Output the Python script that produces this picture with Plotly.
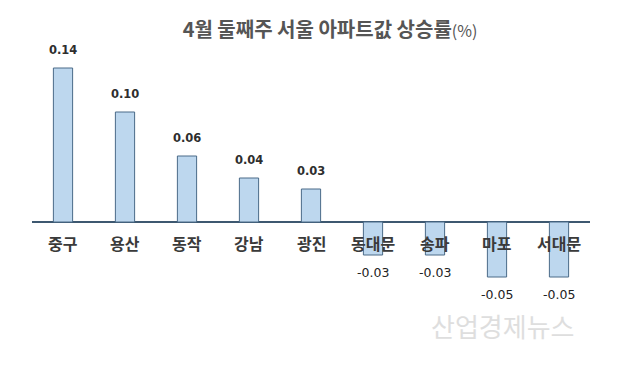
import plotly.graph_objects as go

categories = ["중구", "용산", "동작", "강남", "광진", "동대문", "송파", "마포", "서대문"]
values = [0.14, 0.10, 0.06, 0.04, 0.03, -0.03, -0.03, -0.05, -0.05]
title_main = "4월 둘째주 서울 아파트값 상승률"
title_unit = "(%)"
watermark = "산업경제뉴스"

FONT = "Noto Sans CJK KR"
OFF = 8  # page body margin

W, H = 618 - OFF, 383 - OFF

fig = go.Figure()
fig.add_trace(go.Bar(
    x=categories, y=values, width=0.31,
    marker=dict(color="#bdd7ee", line=dict(color="#4a6a88", width=1)),
    hoverinfo="skip",
))

annotations = []
for c, v in zip(categories, values):
    if v >= 0:
        annotations.append(dict(x=c, y=v, yshift=18, text=f"<b>{v:.2f}</b>", showarrow=False,
                                font=dict(family="DejaVu Sans", size=11.5, color="#2e2e2e")))
    else:
        annotations.append(dict(x=c, y=v, yshift=-17, text=f"{v:.2f}", showarrow=False,
                                font=dict(family="DejaVu Sans", size=12.5, color="#222222")))
    annotations.append(dict(x=c, y=0, yshift=-21, text=f"<b>{c}</b>", showarrow=False,
                            font=dict(family=FONT, size=16, color="#3a3a3a")))

annotations.append(dict(xref="paper", yref="paper", x=0.844, y=0.083, xanchor="center",
                        yanchor="middle", text=watermark, showarrow=False,
                        font=dict(family=FONT, size=26, color="#dedede")))

fig.update_layout(
    width=W, height=H,
    margin=dict(l=32 - OFF, r=28, t=50 - OFF, b=33),
    paper_bgcolor="white", plot_bgcolor="white",
    showlegend=False,
    title=dict(text=f"<b>{title_main}</b><span style='font-size:16px'>{title_unit}</span>",
               x=(330 - OFF) / W, xanchor="center", xref="container",
               y=1 - (30 - OFF) / H, yanchor="middle", yref="container",
               font=dict(family=FONT, size=20, color="#555555")),
    xaxis=dict(showticklabels=False, showgrid=False, zeroline=False, showline=False,
               range=[-0.5, 8.5], fixedrange=True),
    yaxis=dict(showticklabels=False, showgrid=False, zeroline=True, zerolinecolor="#3d5870",
               zerolinewidth=1.5, showline=False, range=[-0.11636, 0.15636], fixedrange=True),
    annotations=annotations,
)

fig.write_html("out.html")
